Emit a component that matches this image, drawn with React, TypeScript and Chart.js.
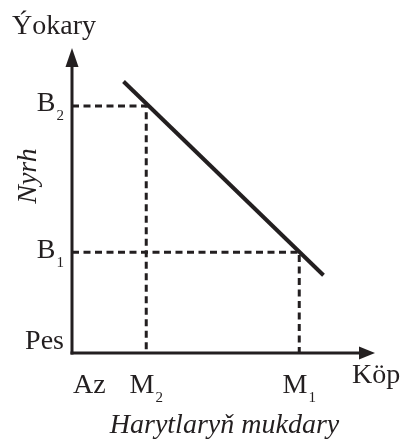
import React, { useEffect, useRef } from "react";
import { Chart, registerables } from "chart.js";

Chart.register(...registerables);

// Tick positions (data units) and their labels
const xTickValues = [0, 24.5, 75];
const xTickLabels = ["Az", "M", "M"];
const xTickSubs = ["", "2", "1"];

const yTickValues = [0, 33, 81];
const yTickLabels = ["Pes", "B", "B"];
const yTickSubs = ["", "1", "2"];

// Demand line end points
const demandX = [17, 83];
const demandY = [89, 25.5];

// Axis texts
const yAxisTop = "Ýokary";
const yAxisTitle = "Nyrh";
const xAxisEnd = "Köp";
const xAxisTitle = "Harytlaryň mukdary";

const FONT = '"Liberation Serif", "Times New Roman", serif';

const drawPlugin = {
  id: "econDiagram",
  afterDraw(chart: any) {
    const ctx = chart.ctx as CanvasRenderingContext2D;
    const xs = chart.scales.x;
    const ys = chart.scales.y;
    const ca = chart.chartArea;
    const x0 = xs.getPixelForValue(0);
    const y0 = ys.getPixelForValue(0);
    ctx.save();
    ctx.strokeStyle = "#231f20";
    ctx.fillStyle = "#231f20";
    ctx.lineWidth = 3;
    ctx.lineCap = "butt";
    // y axis
    ctx.beginPath();
    ctx.moveTo(x0, y0 + 1.5);
    ctx.lineTo(x0, ca.top + 12);
    ctx.stroke();
    ctx.beginPath();
    ctx.moveTo(x0, ca.top);
    ctx.lineTo(x0 - 6.5, ca.top + 19);
    ctx.lineTo(x0 + 6.5, ca.top + 19);
    ctx.closePath();
    ctx.fill();
    // x axis
    ctx.beginPath();
    ctx.moveTo(x0 - 1.5, y0);
    ctx.lineTo(ca.right - 10, y0);
    ctx.stroke();
    ctx.beginPath();
    ctx.moveTo(ca.right, y0);
    ctx.lineTo(ca.right - 16, y0 - 6.5);
    ctx.lineTo(ca.right - 16, y0 + 6.5);
    ctx.closePath();
    ctx.fill();

    const mainSize = 28;
    const subSize = 15;
    const labelWidth = (t: string, s: string) => {
      ctx.font = `${mainSize}px ${FONT}`;
      const w1 = ctx.measureText(t).width;
      ctx.font = `${subSize}px ${FONT}`;
      const w2 = s ? ctx.measureText(s).width + 1 : 0;
      return w1 + w2;
    };
    const drawLabel = (t: string, s: string, left: number, base: number) => {
      ctx.font = `${mainSize}px ${FONT}`;
      ctx.textAlign = "left";
      ctx.textBaseline = "alphabetic";
      ctx.fillText(t, left, base);
      const w1 = ctx.measureText(t).width;
      if (s) {
        ctx.font = `${subSize}px ${FONT}`;
        ctx.fillText(s, left + w1 + 1, base + 9);
      }
    };

    // y tick labels
    yTickValues.forEach((v, i) => {
      const py = ys.getPixelForValue(v);
      const w = labelWidth(yTickLabels[i], yTickSubs[i]);
      const base = v === 0 ? py - 4 : py + 5.5;
      drawLabel(yTickLabels[i], yTickSubs[i], x0 - 8 - w, base);
    });
    // x tick labels
    xTickValues.forEach((v, i) => {
      const px = xs.getPixelForValue(v);
      const w = labelWidth(xTickLabels[i], xTickSubs[i]);
      const left = v === 0 ? px + 1 : px - w / 2;
      drawLabel(xTickLabels[i], xTickSubs[i], left, y0 + 40);
    });

    // axis end words
    ctx.font = `${mainSize}px ${FONT}`;
    ctx.textAlign = "left";
    ctx.textBaseline = "alphabetic";
    ctx.fillText(yAxisTop, x0 - 60, ca.top - 14);
    ctx.fillText(xAxisEnd, ca.right - 23, y0 + 30);

    // axis titles (italic)
    ctx.font = `italic ${mainSize}px ${FONT}`;
    ctx.textAlign = "center";
    ctx.fillText(xAxisTitle, (x0 + ca.right) / 2 + 1, y0 + 80);
    ctx.save();
    ctx.translate(x0 - 36, (ca.top + y0) / 2 - 24.5);
    ctx.rotate(-Math.PI / 2);
    ctx.textBaseline = "alphabetic";
    ctx.fillText(yAxisTitle, 0, 0);
    ctx.restore();

    ctx.restore();
  },
};

export default function App() {
  const ref = useRef<HTMLCanvasElement | null>(null);
  useEffect(() => {
    if (!ref.current) return;
    const guide = (mx: number, by: number) => [
      { x: 0, y: by },
      { x: mx, y: by },
      { x: mx, y: 0 },
    ];
    const dashed = {
      showLine: true,
      borderColor: "#231f20",
      borderWidth: 3,
      borderDash: [7, 4.5],
      pointRadius: 0,
      borderCapStyle: "butt",
    };
    const chart = new Chart(ref.current, {
      type: "scatter",
      data: {
        datasets: [
          {
            data: demandX.map((x, i) => ({ x, y: demandY[i] })),
            showLine: true,
            borderColor: "#231f20",
            borderWidth: 4,
            pointRadius: 0,
            borderCapStyle: "butt",
          },
          { data: guide(xTickValues[1], yTickValues[2]), ...dashed },
          { data: guide(xTickValues[2], yTickValues[1]), ...dashed },
        ],
      },
      options: {
        animation: false,
        responsive: false,
        layout: { padding: { left: 72, top: 48, right: 29, bottom: 92 } },
        plugins: { legend: { display: false }, tooltip: { enabled: false } },
        scales: {
          x: { type: "linear", min: 0, max: 100, display: false },
          y: { type: "linear", min: 0, max: 100, display: false },
        },
      },
      plugins: [drawPlugin],
    } as any);
    return () => chart.destroy();
  }, []);
  return (
    <div style={{ position: "absolute", left: 0, top: 0, width: 404, height: 445, background: "#fff" }}>
      <canvas ref={ref} width={404} height={445} style={{ width: 404, height: 445 }} />
    </div>
  );
}
